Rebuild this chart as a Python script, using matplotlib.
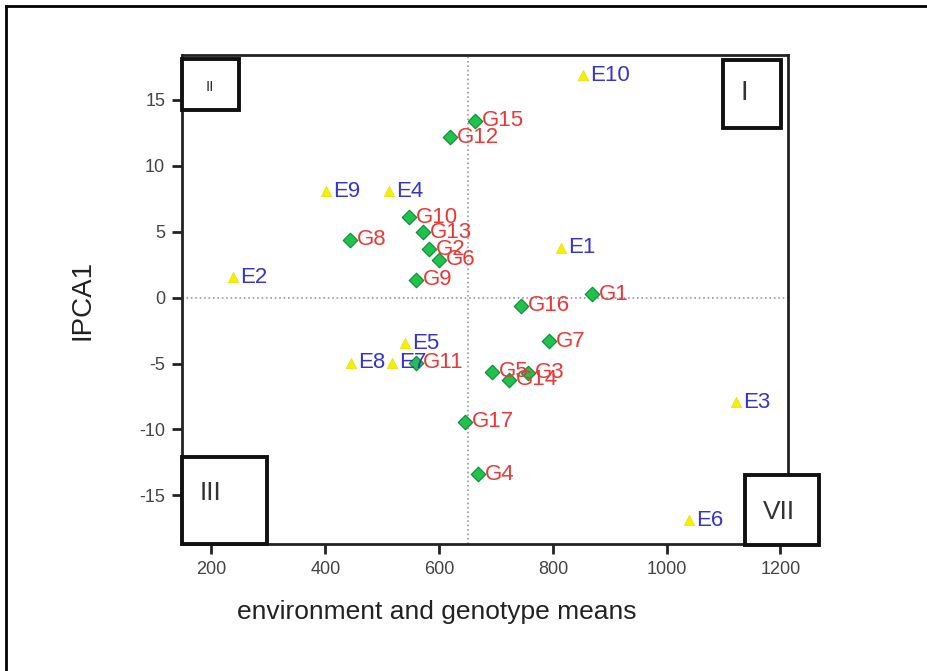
"""
AMMI1 biplot: environment and genotype means vs IPCA1
"""
import matplotlib
matplotlib.use('Agg')
import matplotlib.pyplot as plt
from matplotlib.patches import Rectangle
from matplotlib.lines import Line2D

plt.rcParams['font.family'] = ['Liberation Sans', 'DejaVu Sans']
plt.rcParams['axes.unicode_minus'] = False

# Environments (yellow triangles)
env_names = ['E1', 'E2', 'E3', 'E4', 'E5', 'E6', 'E7', 'E8', 'E9', 'E10']
env_means = [815, 238, 1122, 512, 540, 1040, 518, 446, 402, 853]
env_ipca1 = [3.8, 1.55, -7.95, 8.05, -3.45, -16.9, -4.95, -4.95, 8.05, 16.85]

# Genotypes (green diamonds)
gen_names = ['G1', 'G2', 'G3', 'G4', 'G5', 'G6', 'G7', 'G8', 'G9', 'G10',
             'G11', 'G12', 'G13', 'G14', 'G15', 'G16', 'G17']
gen_means = [868, 582, 757, 668, 693, 599, 793, 443, 560, 547,
             560, 619, 572, 723, 663, 744, 645]
gen_ipca1 = [0.27, 3.68, -5.7, -13.4, -5.63, 2.87, -3.3, 4.39, 1.35, 6.1,
             -4.95, 12.15, 4.94, -6.24, 13.4, -0.62, -9.4]

grand_mean = 650

# quadrant boxes: label, (x0, y0, w, h) in axes fraction, text pos, font size
quadrants = [
    ('II', (0.0, 0.888, 0.094, 0.104), (0.046, 0.935), 11),
    ('I', (0.893, 0.851, 0.095, 0.139), (0.928, 0.922), 20),
    ('III', (0.0, 0.0, 0.140, 0.178), (0.047, 0.104), 19),
    ('VII', (0.929, -0.002, 0.122, 0.143), (0.986, 0.066), 19),
]

fig = plt.figure(figsize=(9.28, 6.71), dpi=100)
ax = fig.add_axes([0.196, 0.189, 0.653, 0.729])

# reference lines
ax.axvline(grand_mean, color='#9a9a9a', linestyle=':', linewidth=1.2, zorder=1)
ax.axhline(0, color='#9a9a9a', linestyle=':', linewidth=1.2, zorder=1)

ax.scatter(env_means, env_ipca1, marker='^', s=55, color='#f4f000',
           edgecolors='#e8e000', linewidths=0.5, zorder=3)
ax.scatter(gen_means, gen_ipca1, marker='D', s=55, color='#1fc24c',
           edgecolors='#0f8a35', linewidths=0.8, zorder=3)

for name, x, y in zip(env_names, env_means, env_ipca1):
    ax.annotate(name, (x, y), xytext=(5, 0), textcoords='offset points',
                va='center', ha='left', fontsize=16, color='#3535cc', zorder=4)
for name, x, y in zip(gen_names, gen_means, gen_ipca1):
    ax.annotate(name, (x, y), xytext=(5, 0), textcoords='offset points',
                va='center', ha='left', fontsize=16, color='#e83838', zorder=4)

ax.set_xlim(148, 1213)
ax.set_ylim(-18.7, 18.4)
ax.set_xticks([200, 400, 600, 800, 1000, 1200])
ax.set_yticks([-15, -10, -5, 0, 5, 10, 15])

for side in ['left', 'bottom', 'right', 'top']:
    ax.spines[side].set_linewidth(2)
    ax.spines[side].set_color('#222222')
ax.tick_params(direction='out', length=7, width=2, color='#222222',
               labelsize=13, labelcolor='#444444', pad=5)

ax.set_xlabel('environment and genotype means', fontsize=19, color='#222222')
ax.xaxis.set_label_coords(0.421, -0.115)
ax.set_ylabel('IPCA1', fontsize=20, color='#222222')
ax.yaxis.set_label_coords(-0.142, 0.5)

# quadrant boxes
for label, (x0, y0, w, h), (tx, ty), fs in quadrants:
    ax.add_patch(Rectangle((x0, y0), w, h, transform=ax.transAxes,
                           facecolor='white', edgecolor='#111111',
                           linewidth=2.8, clip_on=False, zorder=5))
    ax.text(tx, ty, label, transform=ax.transAxes, ha='center', va='center',
            fontsize=fs, color='#333333', zorder=6)

# outer frame of the figure panel
fig.add_artist(Line2D([0.0065, 0.0065], [0.0, 0.991], transform=fig.transFigure,
                      color='black', linewidth=2))
fig.add_artist(Line2D([0.0065, 1.0], [0.991, 0.991], transform=fig.transFigure,
                      color='black', linewidth=2))

fig.savefig('out.png', dpi=100)
